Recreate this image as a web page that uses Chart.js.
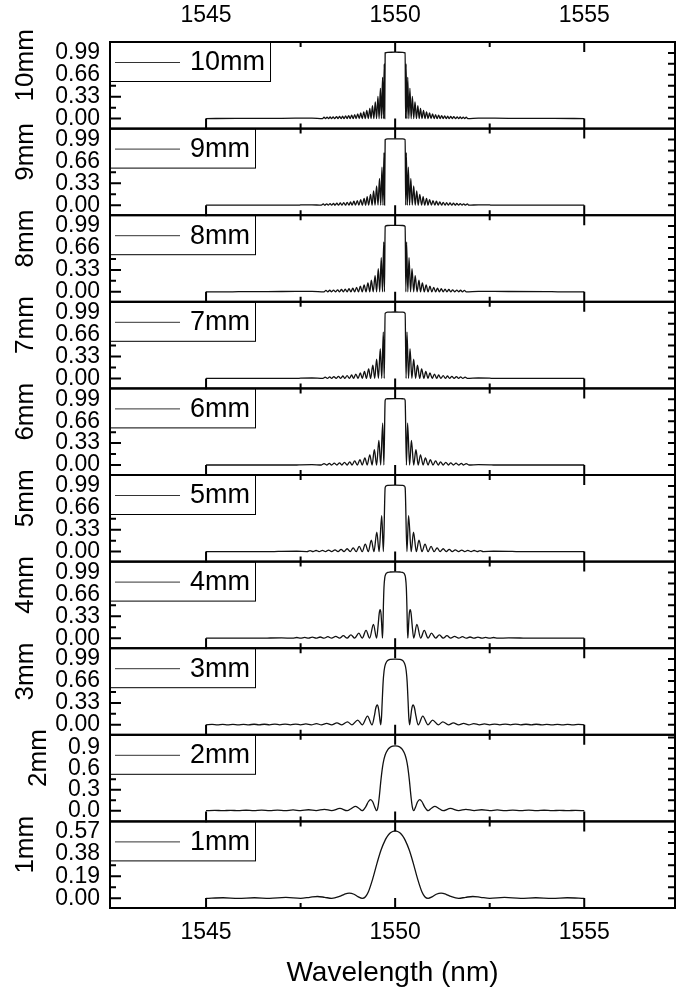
<!DOCTYPE html>
<html>
<head>
<meta charset="utf-8">
<title>FBG reflection spectra vs grating length</title>
<script src="https://cdn.jsdelivr.net/npm/chart.js@4"></script>
<style>
  body { margin: 0; background: #fff; }
  canvas { display: block; }
</style>
</head>
<body>
<canvas id="spectra" width="680" height="991"></canvas>
<script>
// wavelength axis
const xTicks = [1545, 1550, 1555];
const xMinor = [1547.5, 1552.5];

// reflectivity tick labels
const ticks033 = ['0.00', '0.33', '0.66', '0.99'];
const ticks03 = ['0.0', '0.3', '0.6', '0.9'];
const ticks019 = ['0.00', '0.19', '0.38', '0.57'];

// 10 mm
const wl10 = [1545, 1545.8, 1547, 1547.8,
  1548.08, 1548.12, 1548.16, 1548.2, 1548.24, 1548.28, 1548.32, 1548.36, 1548.4, 1548.45,
  1548.49, 1548.53, 1548.57, 1548.61, 1548.65, 1548.69, 1548.73, 1548.77, 1548.81, 1548.85,
  1548.89, 1548.93, 1548.97, 1549.01, 1549.05, 1549.09, 1549.13, 1549.17, 1549.21, 1549.25,
  1549.29, 1549.33, 1549.363, 1549.4, 1549.437, 1549.475, 1549.509, 1549.545, 1549.576, 1549.61,
  1549.638, 1549.667, 1549.689, 1549.711, 1549.724, 1549.736, 1549.8, 1550,
  1550.2, 1550.264,
  1550.276, 1550.289, 1550.311, 1550.333, 1550.362, 1550.39, 1550.424, 1550.455, 1550.491, 1550.525,
  1550.563, 1550.6, 1550.637, 1550.67, 1550.71, 1550.75, 1550.79, 1550.83, 1550.87, 1550.91,
  1550.95, 1550.99, 1551.03, 1551.07, 1551.11, 1551.15, 1551.19, 1551.23, 1551.27, 1551.31,
  1551.35, 1551.39, 1551.43, 1551.47, 1551.51, 1551.55, 1551.6, 1551.64, 1551.68, 1551.72,
  1551.76, 1551.8, 1551.84, 1551.88,
  1551.92, 1552.2, 1553, 1554.2, 1555];
const r10 = [0, .003, .004, .007,
  0, .020, 0, .022, 0, .024, 0, .026, 0, .029,
  0, .032, 0, .036, 0, .041, 0, .046, 0, .053,
  0, .061, 0, .071, 0, .084, 0, .101, 0, .123,
  0, .153, 0, .194, 0, .252, 0, .335, 0, .455,
  0, .622, 0, .825, 0, .990, .999, 1,
  .999, .990,
  0, .825, 0, .622, 0, .455, 0, .335, 0, .252,
  0, .194, 0, .153, 0, .123, 0, .101, 0, .084,
  0, .071, 0, .061, 0, .053, 0, .046, 0, .041,
  0, .036, 0, .032, 0, .029, 0, .026, 0, .024,
  0, .022, 0, .020,
  0, .007, .004, .003, 0];

// 9 mm
const wl9 = [1545, 1547.45, 1547.5, 1547.8, 1548.05,
  1548.1, 1548.14, 1548.19, 1548.23, 1548.28, 1548.32, 1548.37, 1548.41, 1548.46, 1548.5,
  1548.55, 1548.59, 1548.64, 1548.69, 1548.73, 1548.78, 1548.82, 1548.86, 1548.91, 1548.95,
  1549, 1549.04, 1549.09, 1549.13, 1549.18, 1549.22, 1549.26, 1549.3, 1549.35, 1549.39,
  1549.43, 1549.47, 1549.51, 1549.547, 1549.586, 1549.618, 1549.652, 1549.678, 1549.705, 1549.721,
  1549.736, 1549.8, 1550,
  1550.2, 1550.264,
  1550.279, 1550.295, 1550.322, 1550.348, 1550.382, 1550.414, 1550.453, 1550.49, 1550.53, 1550.57,
  1550.61, 1550.65, 1550.7, 1550.74, 1550.78, 1550.83, 1550.87, 1550.91, 1550.96, 1551,
  1551.05, 1551.09, 1551.14, 1551.18, 1551.23, 1551.27, 1551.32, 1551.36, 1551.41, 1551.45,
  1551.5, 1551.54, 1551.59, 1551.63, 1551.68, 1551.72, 1551.77, 1551.81, 1551.86, 1551.91,
  1551.95, 1552.2, 1552.5, 1552.55, 1555];
const r9 = [0, 0, .004, .006, 0,
  .019, 0, .021, 0, .023, 0, .026, 0, .029, 0,
  .033, 0, .038, 0, .043, 0, .050, 0, .059, 0,
  .069, 0, .083, 0, .102, 0, .128, 0, .163, 0,
  .214, 0, .289, 0, .403, 0, .572, 0, .793, 0,
  .988, .999, 1,
  .999, .988,
  0, .793, 0, .572, 0, .403, 0, .289, 0, .214,
  0, .163, 0, .128, 0, .102, 0, .083, 0, .069,
  0, .059, 0, .050, 0, .043, 0, .038, 0, .033,
  0, .029, 0, .026, 0, .023, 0, .021, 0, .019,
  0, .006, .004, 0, 0];

// 8 mm
const wl8 = [1545, 1545.7, 1546, 1547, 1547.8,
  1548.12, 1548.17, 1548.22, 1548.27, 1548.32, 1548.37, 1548.42, 1548.48, 1548.53, 1548.58,
  1548.63, 1548.68, 1548.73, 1548.78, 1548.83, 1548.88, 1548.93, 1548.98, 1549.03, 1549.08,
  1549.13, 1549.18, 1549.23, 1549.28, 1549.33, 1549.37, 1549.42, 1549.47, 1549.51, 1549.554,
  1549.592, 1549.633, 1549.665, 1549.698, 1549.717, 1549.736, 1549.8, 1550,
  1550.2, 1550.264, 1550.283, 1550.302, 1550.335, 1550.367, 1550.408, 1550.446, 1550.49, 1550.53,
  1550.58, 1550.63, 1550.67, 1550.72, 1550.77, 1550.82, 1550.87, 1550.92, 1550.97, 1551.02,
  1551.07, 1551.12, 1551.17, 1551.22, 1551.27, 1551.32, 1551.37, 1551.42, 1551.47, 1551.52,
  1551.58, 1551.63, 1551.68, 1551.73, 1551.78, 1551.83, 1551.88, 1552.2, 1553, 1554,
  1554.3, 1555];
const r8 = [0, 0, .003, .004, .006,
  0, .021, 0, .023, 0, .026, 0, .030, 0, .034,
  0, .040, 0, .047, 0, .056, 0, .067, 0, .083,
  0, .104, 0, .133, 0, .177, 0, .244, 0, .348,
  0, .513, 0, .751, 0, .985, .999, 1,
  .999, .985, 0, .751, 0, .513, 0, .348, 0, .244,
  0, .177, 0, .133, 0, .104, 0, .083, 0, .067,
  0, .056, 0, .047, 0, .040, 0, .034, 0, .030,
  0, .026, 0, .023, 0, .021, 0, .006, .004, .003,
  0, 0];

// 7 mm
const wl7 = [1545, 1547.4, 1547.5, 1547.8, 1548.09,
  1548.15, 1548.21, 1548.27, 1548.32, 1548.38, 1548.44, 1548.5, 1548.56, 1548.62, 1548.67,
  1548.73, 1548.79, 1548.85, 1548.9, 1548.96, 1549.02, 1549.08, 1549.13, 1549.19, 1549.24,
  1549.3, 1549.35, 1549.41, 1549.46, 1549.51, 1549.558, 1549.607, 1549.646, 1549.687, 1549.711,
  1549.736, 1549.8, 1550,
  1550.2, 1550.264, 1550.289, 1550.313, 1550.354, 1550.393, 1550.442, 1550.49, 1550.54, 1550.59,
  1550.65, 1550.7, 1550.76, 1550.81, 1550.87, 1550.92, 1550.98, 1551.04, 1551.1, 1551.15,
  1551.21, 1551.27, 1551.33, 1551.38, 1551.44, 1551.5, 1551.56, 1551.62, 1551.68, 1551.73,
  1551.79, 1551.85, 1551.91, 1552.2, 1552.5, 1552.6, 1555];
const r7 = [0, 0, .003, .006, 0,
  .020, 0, .023, 0, .027, 0, .031, 0, .036, 0,
  .043, 0, .052, 0, .064, 0, .081, 0, .105, 0,
  .141, 0, .198, 0, .290, 0, .447, 0, .698, 0,
  .980, .998, 1,
  .998, .980, 0, .698, 0, .447, 0, .290, 0, .198,
  0, .141, 0, .105, 0, .081, 0, .064, 0, .052,
  0, .043, 0, .036, 0, .031, 0, .027, 0, .023,
  0, .020, 0, .006, .003, 0, 0];

// 6 mm
const wl6 = [1545, 1547.4, 1547.5, 1547.8, 1548.05,
  1548.12, 1548.19, 1548.26, 1548.32, 1548.39, 1548.46, 1548.53, 1548.59, 1548.66, 1548.73,
  1548.8, 1548.86, 1548.93, 1549, 1549.07, 1549.13, 1549.2, 1549.26, 1549.33, 1549.39,
  1549.45, 1549.51, 1549.57, 1549.618, 1549.671, 1549.702, 1549.736, 1549.763, 1549.8, 1550,
  1550.2, 1550.237, 1550.264, 1550.298, 1550.329, 1550.382, 1550.43, 1550.49, 1550.55, 1550.61,
  1550.67, 1550.74, 1550.8, 1550.87, 1550.93, 1551, 1551.07, 1551.14, 1551.2, 1551.27,
  1551.34, 1551.41, 1551.47, 1551.54, 1551.61, 1551.68, 1551.75, 1551.81, 1551.88, 1551.95,
  1552.2, 1552.5, 1552.6, 1555];
const r6 = [0, 0, .003, .006, 0,
  .020, 0, .023, 0, .027, 0, .032, 0, .039, 0,
  .048, 0, .061, 0, .080, 0, .108, 0, .153, 0,
  .231, 0, .372, 0, .630, 0, .973, .996, .998, 1,
  .998, .996, .973, 0, .630, 0, .372, 0, .231, 0,
  .153, 0, .108, 0, .080, 0, .061, 0, .048, 0,
  .039, 0, .032, 0, .027, 0, .023, 0, .020, 0,
  .006, .003, 0, 0];

// 5 mm
const wl5 = [1545, 1546.8, 1547, 1547.4, 1547.67,
  1547.75, 1547.83, 1547.91, 1547.99, 1548.08, 1548.16, 1548.24, 1548.32, 1548.41, 1548.49,
  1548.57, 1548.65, 1548.73, 1548.81, 1548.89, 1548.97, 1549.05, 1549.13, 1549.21, 1549.29,
  1549.37, 1549.44, 1549.515, 1549.576, 1549.645, 1549.689, 1549.736, 1549.763, 1549.8, 1550,
  1550.2, 1550.237, 1550.264, 1550.311, 1550.355, 1550.424, 1550.485, 1550.56, 1550.63, 1550.71,
  1550.79, 1550.87, 1550.95, 1551.03, 1551.11, 1551.19, 1551.27, 1551.35, 1551.43, 1551.51,
  1551.59, 1551.68, 1551.76, 1551.84, 1551.92, 1552.01, 1552.09, 1552.17, 1552.25, 1552.33,
  1552.6, 1553, 1553.2, 1555];
const r5 = [0, 0, .004, .005, 0,
  .014, 0, .016, 0, .019, 0, .023, 0, .027, 0,
  .034, 0, .043, 0, .057, 0, .078, 0, .112, 0,
  .173, 0, .292, 0, .541, 0, .962, .990, .998, 1,
  .998, .990, .962, 0, .541, 0, .292, 0, .173, 0,
  .112, 0, .078, 0, .057, 0, .043, 0, .034, 0,
  .027, 0, .023, 0, .019, 0, .016, 0, .014, 0,
  .005, .004, 0, 0];

// 4 mm
const wl4 = [1545, 1546.5, 1546.7, 1547, 1547.29,
  1547.4, 1547.5, 1547.61, 1547.71, 1547.81, 1547.91, 1548.02, 1548.12, 1548.22, 1548.32,
  1548.43, 1548.53, 1548.63, 1548.73, 1548.83, 1548.93, 1549.04, 1549.13, 1549.23, 1549.325,
  1549.426, 1549.509, 1549.552, 1549.578, 1549.603, 1549.627, 1549.645, 1549.665, 1549.678, 1549.689,
  1549.705, 1549.728, 1549.736, 1549.763, 1549.802, 1549.868, 1550,
  1550.132, 1550.198, 1550.237, 1550.264, 1550.272, 1550.295, 1550.311, 1550.322, 1550.335, 1550.355,
  1550.373, 1550.397, 1550.422, 1550.448, 1550.491, 1550.574, 1550.675, 1550.77, 1550.87, 1550.96,
  1551.07, 1551.17, 1551.27, 1551.37, 1551.47, 1551.57, 1551.68, 1551.78, 1551.88, 1551.98,
  1552.09, 1552.19, 1552.29, 1552.39, 1552.5, 1552.6, 1552.71, 1553, 1553.3, 1553.5,
  1555];
const r4 = [0, 0, .003, .004, 0,
  .010, 0, .012, 0, .015, 0, .018, 0, .022, 0,
  .028, 0, .037, 0, .051, 0, .075, 0, .118, 0,
  .209, 0, .208, .371, .430, .364, .195, 0, .186, .478,
  .768, .919, .941, .976, .991, .997, .999,
  .997, .991, .976, .941, .919, .768, .478, .186, 0, .195,
  .364, .430, .371, .208, 0, .209, 0, .118, 0, .075,
  0, .051, 0, .037, 0, .028, 0, .022, 0, .018,
  0, .015, 0, .012, 0, .010, 0, .004, .003, 0,
  0];

// 3 mm
const wl3 = [1545, 1545.16, 1545.3, 1545.44, 1545.57, 1545.71, 1545.85, 1545.99, 1546.13, 1546.27,
  1546.4, 1546.54, 1546.68, 1546.82, 1546.95, 1547.09, 1547.23, 1547.37, 1547.5, 1547.64,
  1547.78, 1547.92, 1548.05, 1548.19, 1548.32, 1548.46, 1548.59, 1548.74, 1548.86, 1549.01,
  1549.13, 1549.27, 1549.388, 1549.449, 1549.487, 1549.525, 1549.56, 1549.588, 1549.618, 1549.639,
  1549.657, 1549.683, 1549.705, 1549.722, 1549.736, 1549.763, 1549.802, 1549.868, 1550,
  1550.132, 1550.198, 1550.237, 1550.264, 1550.278, 1550.295, 1550.317, 1550.343, 1550.361, 1550.382,
  1550.412, 1550.44, 1550.475, 1550.513, 1550.551, 1550.612, 1550.73, 1550.87, 1550.99, 1551.14,
  1551.26, 1551.41, 1551.54, 1551.68, 1551.81, 1551.95, 1552.08, 1552.23, 1552.36, 1552.5,
  1552.63, 1552.77, 1552.91, 1553.05, 1553.18, 1553.32, 1553.46, 1553.6, 1553.73, 1553.88,
  1554.01, 1554.15, 1554.29, 1554.43, 1554.56, 1554.7, 1554.84, 1555];
const r3 = [0, .006, 0, .006, 0, .007, 0, .007, 0, .008,
  0, .008, 0, .009, 0, .010, 0, .011, 0, .013,
  0, .016, 0, .021, 0, .029, 0, .043, 0, .070,
  0, .129, 0, .129, .249, .298, .244, .120, 0, .114,
  .340, .650, .799, .864, .900, .939, .967, .984, .990,
  .984, .967, .939, .900, .864, .799, .650, .340, .114, 0,
  .120, .244, .298, .249, .129, 0, .129, 0, .070, 0,
  .043, 0, .029, 0, .021, 0, .016, 0, .013, 0,
  .011, 0, .010, 0, .009, 0, .008, 0, .008, 0,
  .007, 0, .007, 0, .006, 0, .006, 0];

// 2 mm
const wl2 = [1545, 1545.23, 1545.44, 1545.65, 1545.85, 1546.06, 1546.26, 1546.47, 1546.68, 1546.89,
  1547.09, 1547.3, 1547.5, 1547.71, 1547.91, 1548.13, 1548.32, 1548.54, 1548.73, 1548.85,
  1548.95, 1549.04, 1549.13, 1549.228, 1549.29, 1549.351, 1549.41, 1549.457, 1549.509, 1549.546,
  1549.578, 1549.627, 1549.67, 1549.705, 1549.736, 1549.802, 1549.868, 1549.934, 1550,
  1550.066, 1550.132, 1550.198, 1550.264, 1550.295, 1550.33, 1550.373, 1550.422, 1550.454, 1550.491,
  1550.543, 1550.59, 1550.649, 1550.71, 1550.772, 1550.87, 1550.96, 1551.05, 1551.15, 1551.27,
  1551.46, 1551.68, 1551.87, 1552.09, 1552.29, 1552.5, 1552.7, 1552.91, 1553.11, 1553.32,
  1553.53, 1553.74, 1553.94, 1554.15, 1554.35, 1554.56, 1554.77, 1555];
const r2 = [0, .005, 0, .005, 0, .006, 0, .007, 0, .008,
  0, .010, 0, .013, 0, .020, 0, .032, 0, .034,
  .062, .034, 0, .062, .128, .159, .125, .057, 0, .054,
  .187, .453, .639, .739, .800, .874, .909, .925, .929,
  .925, .909, .874, .800, .739, .639, .453, .187, .054, 0,
  .057, .125, .159, .128, .062, 0, .034, .062, .034, 0,
  .032, 0, .020, 0, .013, 0, .010, 0, .008, 0,
  .007, 0, .006, 0, .005, 0, .005, 0];

// 1 mm
const wl1 = [1545, 1545.45, 1545.85, 1546.28, 1546.68, 1547.11, 1547.5, 1547.743, 1547.946, 1548.135,
  1548.322, 1548.526, 1548.655, 1548.786, 1548.913, 1549.015, 1549.13, 1549.216, 1549.29, 1549.41,
  1549.525, 1549.627, 1549.736, 1549.802, 1549.868, 1549.934, 1550,
  1550.066, 1550.132, 1550.198, 1550.264, 1550.373, 1550.475, 1550.59, 1550.71, 1550.784, 1550.87,
  1550.985, 1551.087, 1551.214, 1551.345, 1551.474, 1551.678, 1551.865, 1552.054, 1552.257, 1552.5,
  1552.89, 1553.32, 1553.72, 1554.15, 1554.55, 1555];
const r1 = [0, .005, 0, .005, 0, .008, 0, .009, .016, .009,
  0, .016, .035, .045, .035, .015, 0, .014, .054, .171,
  .307, .415, .500, .536, .561, .574, .580,
  .574, .561, .536, .500, .415, .307, .171, .054, .014, 0,
  .015, .035, .045, .035, .016, 0, .009, .016, .009, 0,
  .008, 0, .005, 0, .005, 0];

// bottom panel first: the last left-stacked axis ends up on top
const panels = [
  { name: '1mm', wl: wl1, r: r1, ticks: ticks019, min: -0.083, max: 0.661 },
  { name: '2mm', wl: wl2, r: r2, ticks: ticks03, min: -0.154, max: 1.089 },
  { name: '3mm', wl: wl3, r: r3, ticks: ticks033, min: -0.151, max: 1.154 },
  { name: '4mm', wl: wl4, r: r4, ticks: ticks033, min: -0.151, max: 1.154 },
  { name: '5mm', wl: wl5, r: r5, ticks: ticks033, min: -0.151, max: 1.154 },
  { name: '6mm', wl: wl6, r: r6, ticks: ticks033, min: -0.151, max: 1.154 },
  { name: '7mm', wl: wl7, r: r7, ticks: ticks033, min: -0.151, max: 1.154 },
  { name: '8mm', wl: wl8, r: r8, ticks: ticks033, min: -0.151, max: 1.154 },
  { name: '9mm', wl: wl9, r: r9, ticks: ticks033, min: -0.151, max: 1.154 },
  { name: '10mm', wl: wl10, r: r10, ticks: ticks033, min: -0.151, max: 1.154 }
];

const FAMILY = '"Liberation Sans", Arial, sans-serif';
const X_MIN = 1542.46;
const X_MAX = 1557.4;

const xAxis = (position, padding, height) => ({
  type: 'linear',
  position: position,
  min: X_MIN,
  max: X_MAX,
  grid: { display: false, drawTicks: false },
  border: { display: false },
  afterBuildTicks: s => { s.ticks = xTicks.map(v => ({ value: v })); },
  afterFit: s => { s.height = height; },
  ticks: {
    autoSkip: false, maxRotation: 0, padding: padding, color: '#000',
    font: { family: FAMILY, size: 23 },
    callback: v => String(v)
  }
});

const scales = {
  x: Object.assign(xAxis('bottom', 11, 83), {
    title: {
      display: true, text: 'Wavelength (nm)', color: '#000',
      font: { family: FAMILY, size: 28 },
      padding: { top: 0, bottom: 1 }
    }
  }),
  xTop: xAxis('top', 13, 42)
};

panels.forEach((p, i) => {
  scales['y' + i] = {
    type: 'linear',
    position: 'left',
    stack: 'panels',
    stackWeight: 1,
    min: p.min,
    max: p.max,
    grid: { display: false, drawTicks: false },
    border: { display: false },
    afterFit: s => { s.width = 110; },
    afterBuildTicks: s => { s.ticks = p.ticks.map(t => ({ value: parseFloat(t) })); },
    ticks: {
      autoSkip: false, padding: 10, color: '#000',
      font: { family: FAMILY, size: 23 },
      callback: (v, k) => p.ticks[k]
    }
  };
});

const datasets = panels.map((p, i) => ({
  label: p.name,
  data: p.wl.map((w, k) => ({ x: w, y: p.r[k] })),
  yAxisID: 'y' + i,
  borderColor: '#111',
  borderWidth: 1.3,
  pointRadius: 0,
  fill: false,
  cubicInterpolationMode: 'monotone'
}));

// panel frames, inward ticks, legend boxes and side titles
const panelFrames = {
  id: 'panelFrames',
  afterDraw(chart) {
    const ctx = chart.ctx;
    const area = chart.chartArea;
    const xs = chart.scales.x;
    ctx.save();
    panels.forEach((p, i) => {
      const ys = chart.scales['y' + i];
      const top = ys.top;
      const bottom = ys.bottom;

      ctx.strokeStyle = '#000';
      ctx.lineWidth = 2;
      ctx.beginPath();
      xTicks.forEach(v => {
        const px = xs.getPixelForValue(v);
        ctx.moveTo(px, bottom); ctx.lineTo(px, bottom - 10);
        ctx.moveTo(px, top); ctx.lineTo(px, top + 10);
      });
      xMinor.forEach(v => {
        const px = xs.getPixelForValue(v);
        ctx.moveTo(px, bottom); ctx.lineTo(px, bottom - 5);
        ctx.moveTo(px, top); ctx.lineTo(px, top + 5);
      });
      const vals = p.ticks.map(parseFloat);
      const half = (vals[1] - vals[0]) / 2;
      vals.forEach(v => {
        const py = ys.getPixelForValue(v);
        ctx.moveTo(area.left, py); ctx.lineTo(area.left + 11, py);
        ctx.moveTo(area.right, py); ctx.lineTo(area.right - 7, py);
        if (v + half < ys.max) {
          const pm = ys.getPixelForValue(v + half);
          ctx.moveTo(area.left, pm); ctx.lineTo(area.left + 6, pm);
          ctx.moveTo(area.right, pm); ctx.lineTo(area.right - 7, pm);
        }
      });
      ctx.stroke();
      ctx.strokeRect(area.left, top, area.right - area.left, bottom - top);

      // legend box
      ctx.font = '27px ' + FAMILY;
      const boxW = 80 + ctx.measureText(p.name).width + 5;
      ctx.fillStyle = '#fff';
      ctx.fillRect(area.left + 1, top + 1, boxW - 1, 38);
      ctx.lineWidth = 1;
      ctx.strokeRect(area.left + 0.5, top + 0.5, boxW, 39);
      ctx.strokeStyle = '#333';
      ctx.beginPath();
      ctx.moveTo(area.left + 5, top + 20.5);
      ctx.lineTo(area.left + 70, top + 20.5);
      ctx.stroke();
      ctx.fillStyle = '#000';
      ctx.textAlign = 'left';
      ctx.textBaseline = 'middle';
      ctx.fillText(p.name, area.left + 80, top + 21);

      // rotated panel title left of the tick labels
      ctx.font = '23px ' + FAMILY;
      const labelW = Math.max(...p.ticks.map(t => ctx.measureText(t).width));
      ctx.font = '26px ' + FAMILY;
      ctx.save();
      ctx.translate(100 - labelW - 29, (top + bottom) / 2 - 20);
      ctx.rotate(-Math.PI / 2);
      ctx.textAlign = 'center';
      ctx.fillText(p.name, 0, 0);
      ctx.restore();
    });
    ctx.restore();
  }
};

new Chart(document.getElementById('spectra'), {
  type: 'line',
  data: { datasets: datasets },
  options: {
    responsive: false,
    animation: false,
    events: [],
    devicePixelRatio: 1,
    layout: { padding: { left: 0, right: 5, top: 0, bottom: 0 } },
    plugins: { legend: { display: false }, tooltip: { enabled: false } },
    scales: scales
  },
  plugins: [panelFrames]
});
</script>
</body>
</html>
